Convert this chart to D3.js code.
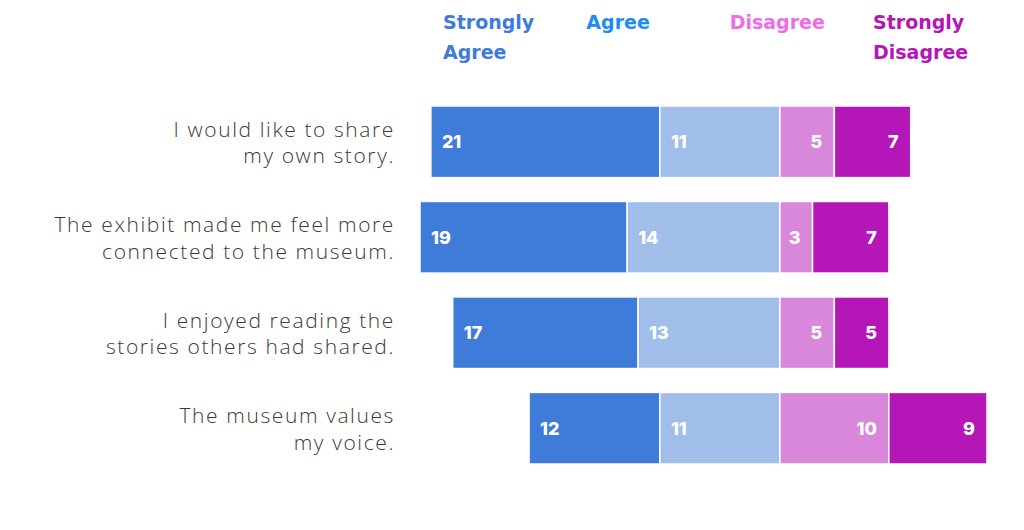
<!DOCTYPE html>
<html>
<head>
<meta charset="utf-8">
<script src="https://cdn.jsdelivr.net/npm/d3@7"></script>
<style>
  body { margin: 0; background: #fff; }
  svg { display: block; }
</style>
</head>
<body>
<svg></svg>
<script>
// data
let statements = [
    ['I would like to share', 'my own story.'],
    ['The exhibit made me feel more', 'connected to the museum.'],
    ['I enjoyed reading the', 'stories others had shared.'],
    ['The museum values', 'my voice.']
]
let categories = ['Strongly Agree', 'Agree', 'Disagree', 'Strongly Disagree']
let stronglyAgree = [21, 19, 17, 12]
let agree = [11, 14, 13, 11]
let disagree = [5, 3, 5, 10]
let stronglyDisagree = [7, 7, 5, 9]

let barColors = ['#3f7bd8', '#a1bdea', '#d987db', '#b516b8']
let legendColors = ['#3f7bd8', '#1e8cf0', '#ec6ee6', '#b516b8']

let width = 1024
let height = 530

let svg = d3.select('svg')
    .attr('width', width)
    .attr('height', height)

// scales
let xScale = d3.scaleLinear()
    .domain([-33, 19])
    .range([420, 987])

let yScale = d3.scaleBand()
    .domain(d3.range(statements.length))
    .range([106, 464])
    .paddingInner(0.25)
    .paddingOuter(0)

let legendScale = d3.scalePoint()
    .domain(categories)
    .range([443, 873])

// build segments: agree side goes left of zero, disagree side right
let segments = []
statements.forEach((s, i) => {
    let sa = stronglyAgree[i], a = agree[i], d = disagree[i], sd = stronglyDisagree[i]
    segments.push({ row: i, cat: 0, v: sa, x0: -(sa + a), x1: -a })
    segments.push({ row: i, cat: 1, v: a, x0: -a, x1: 0 })
    segments.push({ row: i, cat: 2, v: d, x0: 0, x1: d })
    segments.push({ row: i, cat: 3, v: sd, x0: d, x1: d + sd })
})

svg.selectAll('rect.bar')
    .data(segments)
    .enter()
    .append('rect')
    .attr('class', 'bar')
    .attr('x', (d) => xScale(d.x0))
    .attr('width', (d) => xScale(d.x1) - xScale(d.x0))
    .attr('y', (d) => yScale(d.row))
    .attr('height', yScale.bandwidth())
    .attr('fill', (d) => barColors[d.cat])
    .attr('stroke', '#fff')
    .attr('stroke-width', 1.5)

// value labels
svg.selectAll('text.value')
    .data(segments)
    .enter()
    .append('text')
    .attr('class', 'value')
    .attr('x', (d) => d.cat < 2 ? xScale(d.x0) + 11 : xScale(d.x1) - 12)
    .attr('y', (d) => yScale(d.row) + yScale.bandwidth() / 2)
    .attr('dy', '0.36em')
    .attr('text-anchor', (d) => d.cat < 2 ? 'start' : 'end')
    .attr('fill', '#fff')
    .style('font-family', 'Inter, Roboto, sans-serif')
    .style('font-weight', 800)
    .style('font-size', '18px')
    .text((d) => d.v)

// statement labels
let rowLabels = svg.selectAll('text.row')
    .data(statements)
    .enter()
    .append('text')
    .attr('class', 'row')
    .attr('text-anchor', 'end')
    .attr('fill', '#3a3a3a')
    .style('font-family', '"Open Sans", sans-serif')
    .style('font-weight', 300)
    .style('font-size', '21px')
    .style('letter-spacing', '1.6px')

rowLabels.selectAll('tspan')
    .data((d, i) => d.map((line, j) => ({ line: line, row: i, j: j })))
    .enter()
    .append('tspan')
    .attr('x', 395)
    .attr('y', (d) => yScale(d.row) + yScale.bandwidth() / 2 - 5 + d.j * 26.6)
    .text((d) => d.line)

// legend
let legend = svg.selectAll('text.legend')
    .data(categories)
    .enter()
    .append('text')
    .attr('class', 'legend')
    .attr('fill', (d, i) => legendColors[i])
    .style('font-family', '"DejaVu Sans", sans-serif')
    .style('font-weight', 700)
    .style('font-size', '19px')

legend.selectAll('tspan')
    .data((d) => d.split(' ').map((w, j) => ({ w: w, cat: d, j: j })))
    .enter()
    .append('tspan')
    .attr('x', (d) => legendScale(d.cat))
    .attr('y', (d) => 29 + d.j * 30)
    .text((d) => d.w)
</script>
</body>
</html>
